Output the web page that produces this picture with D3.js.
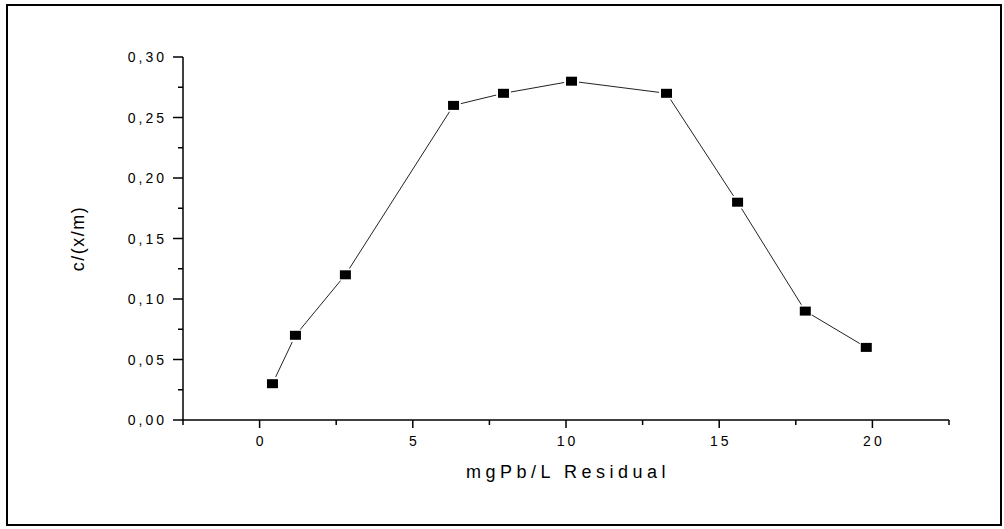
<!DOCTYPE html>
<html>
<head>
<meta charset="utf-8">
<script src="https://cdn.jsdelivr.net/npm/d3@7"></script>
<style>
  body { margin: 0; background: #fff; }
  text { font-family: "Liberation Sans", Arial, sans-serif; fill: #000; }
</style>
</head>
<body>
<script>
// residual Pb (mg/L) vs c/(x/m)
const residual = [0.42, 1.17, 2.8, 6.33, 7.96, 10.18, 13.28, 15.6, 17.81, 19.8];
const ratio    = [0.03, 0.07, 0.12, 0.26, 0.27, 0.28, 0.27, 0.18, 0.09, 0.06];
const xTicks = [0, 5, 10, 15, 20];
const yTicks = [0, 0.05, 0.10, 0.15, 0.20, 0.25, 0.30];

const width = 1004, height = 529;
const margin = {top: 57, right: 55, bottom: 109, left: 183};

const svg = d3.select("body").append("svg")
    .attr("width", width)
    .attr("height", height);

svg.append("rect")
    .attr("x", 7).attr("y", 5)
    .attr("width", 994).attr("height", 520)
    .attr("fill", "none")
    .attr("stroke", "#000")
    .attr("stroke-width", 2);

const x = d3.scaleLinear()
    .domain([-2.5, 22.5])
    .range([margin.left, width - margin.right]);

const y = d3.scaleLinear()
    .domain([0, 0.30])
    .range([height - margin.bottom, margin.top]);

const fmt = d => d3.format(".2f")(d).replace(".", ",");

// x axis
const gx = svg.append("g")
    .attr("transform", `translate(0,${y(0)})`);
gx.append("line")
    .attr("x1", x.range()[0]).attr("x2", x.range()[1])
    .attr("stroke", "#000").attr("stroke-width", 1.5);
gx.selectAll(".minor")
  .data(d3.range(-2.5, 22.6, 5))
  .join("line")
    .attr("x1", d => x(d)).attr("x2", d => x(d))
    .attr("y1", 0).attr("y2", 5)
    .attr("stroke", "#000").attr("stroke-width", 1.5);
gx.selectAll(".major")
  .data(xTicks)
  .join("line")
    .attr("x1", d => x(d)).attr("x2", d => x(d))
    .attr("y1", 0).attr("y2", 8)
    .attr("stroke", "#000").attr("stroke-width", 1.5);
gx.selectAll("text")
  .data(xTicks)
  .join("text")
    .attr("x", d => x(d) + 1.5)
    .attr("y", 26)
    .attr("text-anchor", "middle")
    .attr("font-size", 14)
    .attr("letter-spacing", 3)
    .text(d => d);

// y axis
const gy = svg.append("g")
    .attr("transform", `translate(${x(-2.5)},0)`);
gy.append("line")
    .attr("y1", y.range()[0]).attr("y2", y.range()[1])
    .attr("stroke", "#000").attr("stroke-width", 1.5);
gy.selectAll(".minor")
  .data(d3.range(0.025, 0.3, 0.05))
  .join("line")
    .attr("y1", d => y(d)).attr("y2", d => y(d))
    .attr("x1", 0).attr("x2", -5)
    .attr("stroke", "#000").attr("stroke-width", 1.5);
gy.selectAll(".major")
  .data(yTicks)
  .join("line")
    .attr("y1", d => y(d)).attr("y2", d => y(d))
    .attr("x1", 0).attr("x2", -10)
    .attr("stroke", "#000").attr("stroke-width", 1.5);
gy.selectAll("text")
  .data(yTicks)
  .join("text")
    .attr("x", -16)
    .attr("y", d => y(d) + 5)
    .attr("text-anchor", "end")
    .attr("font-size", 14)
    .attr("letter-spacing", 3)
    .text(fmt);

// axis titles
svg.append("text")
    .attr("x", x(10) + 2)
    .attr("y", 478)
    .attr("text-anchor", "middle")
    .attr("font-size", 18)
    .attr("letter-spacing", 4.5)
    .text("mgPb/L Residual");

svg.append("text")
    .attr("transform", `translate(84,${(y(0) + y(0.3)) / 2}) rotate(-90)`)
    .attr("text-anchor", "middle")
    .attr("font-size", 18)
    .attr("letter-spacing", 1.5)
    .text("c/(x/m)");

// line with small gaps at the markers
const pts = residual.map((r, i) => [x(r), y(ratio[i])]);
const segs = d3.pairs(pts).map(([a, b]) => {
  const dx = b[0] - a[0], dy = b[1] - a[1];
  const len = Math.hypot(dx, dy), g = 7.5;
  return [a[0] + dx / len * g, a[1] + dy / len * g, b[0] - dx / len * g, b[1] - dy / len * g];
});
svg.append("g")
  .selectAll("line")
  .data(segs)
  .join("line")
    .attr("x1", d => d[0]).attr("y1", d => d[1])
    .attr("x2", d => d[2]).attr("y2", d => d[3])
    .attr("stroke", "#222")
    .attr("stroke-width", 1);

svg.append("g")
  .selectAll("rect")
  .data(pts)
  .join("rect")
    .attr("x", d => d[0] - 5.5)
    .attr("y", d => d[1] - 4.5)
    .attr("width", 11)
    .attr("height", 9)
    .attr("fill", "#000");
</script>
</body>
</html>
